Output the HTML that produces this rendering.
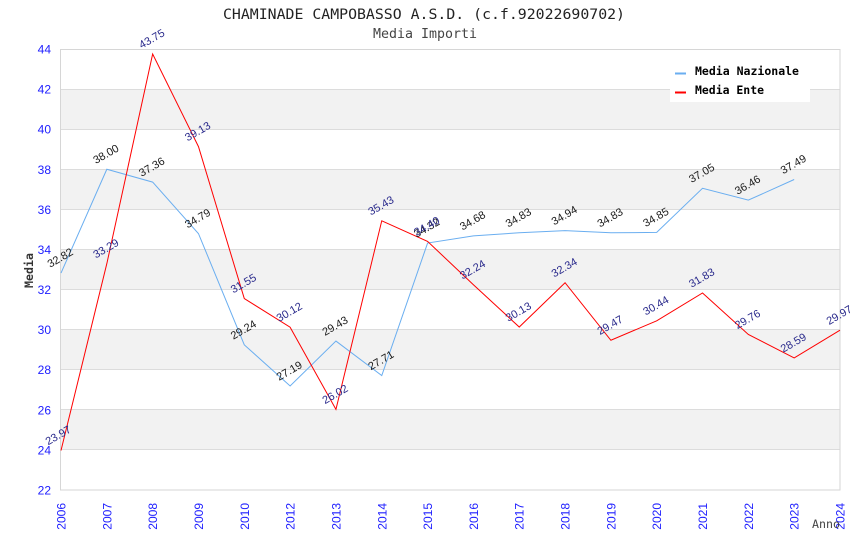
<!DOCTYPE html>
<html><head><meta charset="utf-8"><style>
html,body{margin:0;padding:0;background:#fff;}
svg{display:block;}
</style></head><body>
<svg width="850" height="550" viewBox="0 0 850 550" xmlns="http://www.w3.org/2000/svg">
<rect x="0" y="0" width="850" height="550" fill="#fff"/>
<!-- title -->
<text x="223" y="19" font-family="DejaVu Sans Mono, Liberation Mono, monospace" font-size="14" fill="#222" textLength="402" lengthAdjust="spacingAndGlyphs">CHAMINADE CAMPOBASSO A.S.D. (c.f.92022690702)</text>
<text x="373" y="38" font-family="DejaVu Sans Mono, Liberation Mono, monospace" font-size="13" fill="#444" textLength="104" lengthAdjust="spacingAndGlyphs">Media Importi</text>
<!-- bands -->
<g fill="#f2f2f2">
<rect x="61" y="89" width="779" height="40"/>
<rect x="61" y="169" width="779" height="40"/>
<rect x="61" y="249" width="779" height="40"/>
<rect x="61" y="329" width="779" height="41"/>
<rect x="61" y="409" width="779" height="41"/>
</g>
<g stroke="#dcdcdc" stroke-width="1">
<line x1="61" y1="89.5" x2="840" y2="89.5"/>
<line x1="61" y1="129.5" x2="840" y2="129.5"/>
<line x1="61" y1="169.5" x2="840" y2="169.5"/>
<line x1="61" y1="209.5" x2="840" y2="209.5"/>
<line x1="61" y1="249.5" x2="840" y2="249.5"/>
<line x1="61" y1="289.5" x2="840" y2="289.5"/>
<line x1="61" y1="329.5" x2="840" y2="329.5"/>
<line x1="61" y1="369.5" x2="840" y2="369.5"/>
<line x1="61" y1="409.5" x2="840" y2="409.5"/>
<line x1="61" y1="449.5" x2="840" y2="449.5"/>
</g>
<rect x="60.5" y="49.5" width="779.5" height="440.5" fill="none" stroke="#d6d6d6" stroke-width="1"/>
<!-- y tick labels -->
<g font-family="Liberation Sans, sans-serif" font-size="12" fill="#2020ff" text-anchor="end">
<text x="51" y="53.5">44</text>
<text x="51" y="93.5">42</text>
<text x="51" y="133.5">40</text>
<text x="51" y="173.8">38</text>
<text x="51" y="213.8">36</text>
<text x="51" y="253.9">34</text>
<text x="51" y="294">32</text>
<text x="51" y="334.1">30</text>
<text x="51" y="374.2">28</text>
<text x="51" y="414.3">26</text>
<text x="51" y="454.4">24</text>
<text x="51" y="494.5">22</text>
</g>
<!-- x tick labels -->
<g font-family="Liberation Sans, sans-serif" font-size="12" fill="#2020ff" text-anchor="end">
<text transform="translate(65.5,503) rotate(-90)">2006</text>
<text transform="translate(111.3,503) rotate(-90)">2007</text>
<text transform="translate(157.1,503) rotate(-90)">2008</text>
<text transform="translate(203,503) rotate(-90)">2009</text>
<text transform="translate(248.8,503) rotate(-90)">2010</text>
<text transform="translate(294.6,503) rotate(-90)">2012</text>
<text transform="translate(340.4,503) rotate(-90)">2013</text>
<text transform="translate(386.3,503) rotate(-90)">2014</text>
<text transform="translate(432.1,503) rotate(-90)">2015</text>
<text transform="translate(477.9,503) rotate(-90)">2016</text>
<text transform="translate(523.7,503) rotate(-90)">2017</text>
<text transform="translate(569.6,503) rotate(-90)">2018</text>
<text transform="translate(615.4,503) rotate(-90)">2019</text>
<text transform="translate(661.2,503) rotate(-90)">2020</text>
<text transform="translate(707,503) rotate(-90)">2021</text>
<text transform="translate(752.9,503) rotate(-90)">2022</text>
<text transform="translate(798.7,503) rotate(-90)">2023</text>
<text transform="translate(844.5,503) rotate(-90)">2024</text>
</g>
<!-- axis titles -->
<text transform="translate(33,288) rotate(-90)" font-family="DejaVu Sans Mono, Liberation Mono, monospace" font-weight="bold" font-size="11.5" fill="#333" textLength="35" lengthAdjust="spacingAndGlyphs">Media</text>
<text x="812" y="528" font-family="DejaVu Sans Mono, Liberation Mono, monospace" font-size="11.5" fill="#444" textLength="28" lengthAdjust="spacingAndGlyphs">Anno</text>
<!-- series -->
<polyline fill="none" stroke="#6aaef0" stroke-width="1" points="61,273.1 106.82,169.27 152.65,182.1 198.47,233.61 244.29,344.86 290.12,385.96 335.94,341.06 381.76,375.53 427.59,243.04 473.41,235.82 519.24,232.81 565.06,230.61 610.88,232.81 656.71,232.41 702.53,188.31 748.35,200.14 794.18,179.49"/>
<polyline fill="none" stroke="#ff0000" stroke-width="1" points="61,450.5 106.82,263.68 152.65,54.01 198.47,146.62 244.29,298.56 290.12,327.22 335.94,409.41 381.76,220.79 427.59,241.43 473.41,284.73 519.24,327.02 565.06,282.72 610.88,340.25 656.71,320.81 702.53,292.95 748.35,334.44 794.18,357.89 840,330.23"/>
<!-- labels nazionale -->
<g font-family="Liberation Sans, sans-serif" font-size="11" fill="#1a1a1a" text-anchor="middle">
<text transform="translate(62,261) rotate(-30)">32.82</text>
<text transform="translate(107.8,157.3) rotate(-30)">38.00</text>
<text transform="translate(153.6,170.1) rotate(-30)">37.36</text>
<text transform="translate(199.5,221.6) rotate(-30)">34.79</text>
<text transform="translate(245.3,332.9) rotate(-30)">29.24</text>
<text transform="translate(291.1,374) rotate(-30)">27.19</text>
<text transform="translate(336.9,329.1) rotate(-30)">29.43</text>
<text transform="translate(382.8,363.5) rotate(-30)">27.71</text>
<text transform="translate(428.6,231) rotate(-30)">34.32</text>
<text transform="translate(474.4,223.8) rotate(-30)">34.68</text>
<text transform="translate(520.2,220.8) rotate(-30)">34.83</text>
<text transform="translate(566.1,218.6) rotate(-30)">34.94</text>
<text transform="translate(611.9,220.8) rotate(-30)">34.83</text>
<text transform="translate(657.7,220.4) rotate(-30)">34.85</text>
<text transform="translate(703.5,176.3) rotate(-30)">37.05</text>
<text transform="translate(749.4,188.1) rotate(-30)">36.46</text>
<text transform="translate(795.2,167.5) rotate(-30)">37.49</text>
</g>
<!-- labels ente -->
<g font-family="Liberation Sans, sans-serif" font-size="11" fill="#2a2a8c" text-anchor="middle">
<text transform="translate(60,438.5) rotate(-30)">23.97</text>
<text transform="translate(107.8,251.7) rotate(-30)">33.29</text>
<text transform="translate(153.6,42) rotate(-30)">43.75</text>
<text transform="translate(199.5,134.6) rotate(-30)">39.13</text>
<text transform="translate(245.3,286.6) rotate(-30)">31.55</text>
<text transform="translate(291.1,315.2) rotate(-30)">30.12</text>
<text transform="translate(336.9,397.4) rotate(-30)">26.02</text>
<text transform="translate(382.8,208.8) rotate(-30)">35.43</text>
<text transform="translate(428.6,229.4) rotate(-30)">34.40</text>
<text transform="translate(474.4,272.7) rotate(-30)">32.24</text>
<text transform="translate(520.2,315) rotate(-30)">30.13</text>
<text transform="translate(566.1,270.7) rotate(-30)">32.34</text>
<text transform="translate(611.9,328.3) rotate(-30)">29.47</text>
<text transform="translate(657.7,308.8) rotate(-30)">30.44</text>
<text transform="translate(703.5,281) rotate(-30)">31.83</text>
<text transform="translate(749.4,322.4) rotate(-30)">29.76</text>
<text transform="translate(795.2,345.9) rotate(-30)">28.59</text>
<text transform="translate(841,318.2) rotate(-30)">29.97</text>
</g>
<!-- legend -->
<rect x="670" y="55" width="140" height="47" fill="#fff"/>
<line x1="675" y1="73.5" x2="686" y2="73.5" stroke="#6aaef0" stroke-width="2"/>
<line x1="675" y1="92.5" x2="686" y2="92.5" stroke="#ff0000" stroke-width="2"/>
<g font-family="DejaVu Sans Mono, Liberation Mono, monospace" font-weight="bold" font-size="11.5" fill="#000">
<text x="695" y="75" textLength="104" lengthAdjust="spacingAndGlyphs">Media Nazionale</text>
<text x="695" y="94" textLength="69" lengthAdjust="spacingAndGlyphs">Media Ente</text>
</g>
</svg>
</body></html>
